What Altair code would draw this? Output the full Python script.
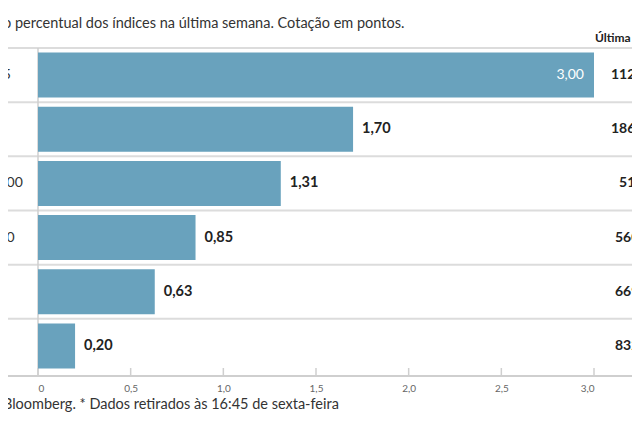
import altair as alt
import pandas as pd

indices = ["IBEX 35", "DAX", "Stoxx 600", "S&P 500", "PSI", "FTSE"]
variacao = [3.00, 1.70, 1.31, 0.85, 0.63, 0.20]
cotacao = [11270.45, 18633.10, 518.32, 5601.23, 6698.41, 8327.78]
ticks = [0, 0.5, 1.0, 1.5, 2.0, 2.5, 3.0]
titulo = "Variação percentual dos índices na última semana. Cotação em pontos."
cabecalho = "Última cotação*"
fonte = "Fonte: Bloomberg.  * Dados retirados às 16:45 de sexta-feira"

W, H = 556, 325
FONT = "Lato"
BAR = "#69a2bd"

df = pd.DataFrame({"indice": indices, "var": variacao, "cot": cotacao})
df["var_txt"] = [f"{v:.2f}".replace(".", ",") for v in variacao]
df["cot_txt"] = [f"{v:.2f}".replace(".", ",") for v in cotacao]

one = pd.DataFrame({"t": [0]})
tick_df = pd.DataFrame({"tick": ticks})

ysc = alt.Scale(paddingInner=0.17, paddingOuter=0.085)
Y = alt.Y("indice:N", sort=indices, scale=ysc, axis=None)

base = alt.Chart(df)

bars = base.mark_bar(color=BAR).encode(
    x=alt.X("var:Q", scale=alt.Scale(domain=[0, 3], nice=False, zero=True),
            axis=alt.Axis(values=ticks, ticks=False, domain=False, grid=False,
                          labelExpr="datum.value == 0 ? '0' : replace(format(datum.value, '.1f'), '.', ',')",
                          labelFontSize=10, labelColor="#666", labelPadding=10,
                          labelFont=FONT, title=None)),
    y=Y,
)

seps = base.mark_rule(color="#dcdcdc", strokeWidth=2, yOffset=-4.6).encode(
    y=alt.Y("indice:N", sort=indices, bandPosition=0, scale=ysc, axis=None),
    x=alt.value(-120), x2=alt.value(W + 120),
)

bottom_line = alt.Chart(one).mark_rule(color="#cfcfcf", strokeWidth=2).encode(
    x=alt.value(-120), x2=alt.value(W + 120), y=alt.value(H + 3)
)

vline = alt.Chart(one).mark_rule(color="#cfcfcf", strokeWidth=1.5).encode(
    x=alt.value(0), y=alt.value(0), y2=alt.value(H + 3)
)

tick_marks = alt.Chart(tick_df).mark_rule(color="#cfcfcf", strokeWidth=1.5).encode(
    x=alt.X("tick:Q"), y=alt.value(H - 5), y2=alt.value(H + 3)
)

inside = base.transform_filter("datum.var >= 2.5").mark_text(
    align="right", baseline="middle", dx=-10, color="white", fontSize=14, font=FONT
).encode(x="var:Q", y=Y, text="var_txt:N")

outside = base.transform_filter("datum.var < 2.5").mark_text(
    align="left", baseline="middle", dx=9, color="#222", fontSize=14.5, font=FONT, fontWeight="bold"
).encode(x="var:Q", y=Y, text="var_txt:N")

labels = base.mark_text(
    align="left", baseline="middle", color="#333", fontSize=14, font=FONT
).encode(x=alt.value(-77), y=Y, text="indice:N")

cot = base.mark_text(
    align="center", baseline="middle", color="#222", fontSize=14, font=FONT, fontWeight="bold"
).encode(x=alt.value(603), y=Y, text="cot_txt:N")

header = alt.Chart(pd.DataFrame({"t": [cabecalho]})).mark_text(
    align="left", baseline="middle", color="#222", fontSize=12, font=FONT, fontWeight="bold"
).encode(x=alt.value(557), y=alt.value(-10), text="t:N")

title = alt.Chart(pd.DataFrame({"t": [titulo]})).mark_text(
    align="left", baseline="middle", color="#333", fontSize=14.5, font=FONT
).encode(x=alt.value(-81), y=alt.value(-24), text="t:N")

footer = alt.Chart(pd.DataFrame({"t": [fonte]})).mark_text(
    align="left", baseline="middle", color="#333", fontSize=14.5, font=FONT
).encode(x=alt.value(-79), y=alt.value(H + 32), text="t:N")

chart = alt.layer(
    seps, bottom_line, vline, tick_marks, bars, inside, outside, labels, cot, header, title, footer
).properties(
    width=W, height=H,
    autosize=alt.AutoSizeParams(type="none"),
    padding={"left": 30, "top": 40, "right": 38, "bottom": 39},
).configure_view(stroke=None)

chart.save("out.html", embed_options={"renderer": "svg", "actions": False})
